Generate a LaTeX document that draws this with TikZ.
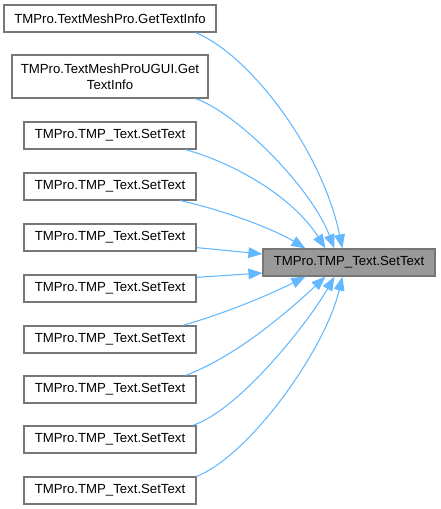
\documentclass[tikz,border=0pt]{standalone}
\usepackage{fontspec}
\setmainfont{Liberation Sans}
\usetikzlibrary{arrows.meta,calc}
\definecolor{edgeblue}{HTML}{63B8FF}
\definecolor{boxline}{HTML}{777777}
\definecolor{targetfill}{HTML}{999999}
\begin{document}
\begin{tikzpicture}[x=0.75pt,y=-0.75pt,
  srcbox/.style={draw=boxline,line width=0.9pt,fill=white,inner sep=0pt,
    minimum width=129pt,minimum height=20.25pt,align=center,
    font=\fontsize{9.9pt}{11.8pt}\selectfont},
  tgtbox/.style={srcbox,fill=targetfill},
  conn/.style={draw=edgeblue,line width=0.8pt,
    -{Triangle[length=10.5pt,width=8pt]},shorten >=0pt}
]
\useasboundingbox (0,0) rectangle (440,509);
\node[srcbox,minimum width=159pt] (b1) at (110,18.5) {TMPro.TextMeshPro.GetTextInfo};
\node[srcbox,minimum width=147pt,minimum height=32.25pt] (b2) at (110,76.5) {TMPro.TextMeshProUGUI.Get\\TextInfo};
\node[srcbox] (b3) at (110,135.5) {TMPro.TMP\_Text.SetText};
\node[srcbox] (b4) at (110,186.5) {TMPro.TMP\_Text.SetText};
\node[srcbox] (b5) at (110,237.5) {TMPro.TMP\_Text.SetText};
\node[srcbox] (b6) at (110,288.5) {TMPro.TMP\_Text.SetText};
\node[srcbox] (b7) at (110,339.5) {TMPro.TMP\_Text.SetText};
\node[srcbox] (b8) at (110,389.5) {TMPro.TMP\_Text.SetText};
\node[srcbox] (b9) at (110,439.5) {TMPro.TMP\_Text.SetText};
\node[srcbox] (b10) at (110,490.5) {TMPro.TMP\_Text.SetText};
\node[tgtbox] (t) at (349,262.5) {TMPro.TMP\_Text.SetText};

\draw[conn] ($(b1.south east)+(-21,0)$) .. controls (250,55) and (322,150) .. ($(t.north west)+(80,0)$);
\draw[conn] ($(b2.south east)+(-13,0)$) .. controls (235,112) and (310,185) .. ($(t.north west)+(72,0)$);
\draw[conn] ($(b3.south east)+(-11,0)$) .. controls (240,165) and (295,200) .. ($(t.north west)+(63,0)$);
\draw[conn] ($(b4.south east)+(-16,0)$) .. controls (230,212) and (275,230) .. ($(t.north west)+(43,0)$);
\draw[conn] ($(b5.south east)+(0,-4)$) -- ($(t.west)+(0,-8.5)$);
\draw[conn] ($(b6.north east)+(0,3)$) -- ($(t.west)+(0,10.5)$);
\draw[conn] ($(b7.north east)+(-14,0)$) .. controls (230,312) and (275,292) .. ($(t.south west)+(43,0)$);
\draw[conn] ($(b8.north east)+(-11,0)$) .. controls (240,355) and (295,305) .. ($(t.south west)+(63,0)$);
\draw[conn] ($(b9.north east)+(-4,0)$) .. controls (240,410) and (310,320) .. ($(t.south west)+(72,0)$);
\draw[conn] ($(b10.north east)+(0,0)$) .. controls (250,455) and (325,350) .. ($(t.south west)+(80,0)$);
\end{tikzpicture}
\end{document}
